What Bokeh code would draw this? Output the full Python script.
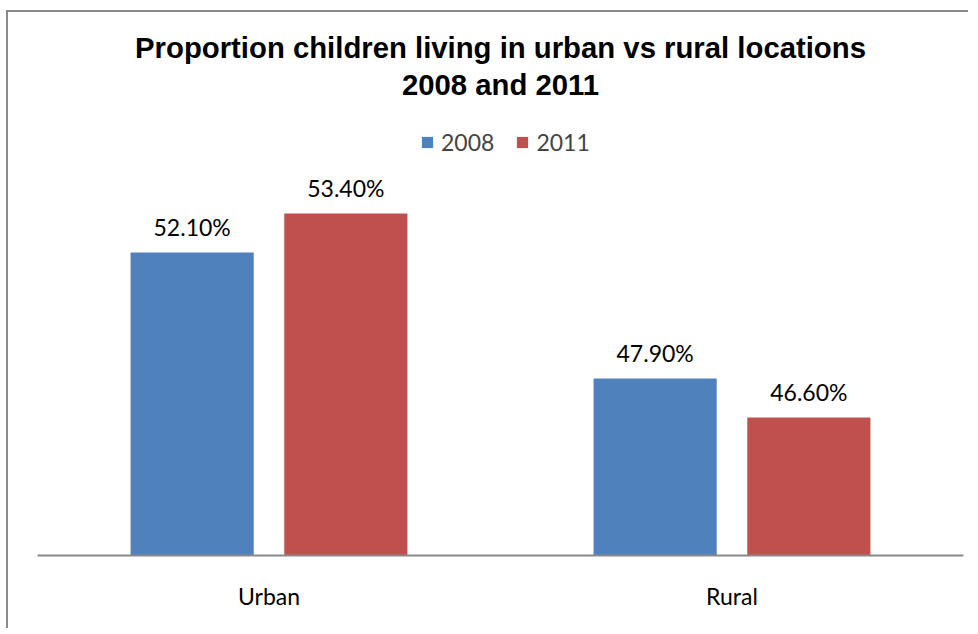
from bokeh.plotting import figure
from bokeh.models import ColumnDataSource, FactorRange, Range1d, Title, Legend
from bokeh.transform import dodge
from bokeh.core.properties import value
from bokeh.embed import file_html
from bokeh.resources import INLINE

# ---- data ----
categories = ["Urban", "Rural"]
series_names = ["2008", "2011"]
values_2008 = [52.1, 47.9]
values_2011 = [53.4, 46.6]
title_line1 = "Proportion children living in urban vs rural locations"
title_line2 = "2008 and 2011"

BLUE = "#4F81BD"
RED = "#C0504D"
GRAY = "#898989"
LABEL_FONT = "Lato"
TITLE_FONT = "Liberation Sans"
LABEL_SIZE = "23px"
TITLE_SIZE = "29.3px"

src = ColumnDataSource(dict(
    cat=categories,
    v2008=values_2008,
    v2011=values_2011,
    l2008=[f"{v:.2f}%" for v in values_2008],
    l2011=[f"{v:.2f}%" for v in values_2011],
))

p = figure(
    x_range=FactorRange(*categories, range_padding=0),
    y_range=Range1d(42, 57.1),
    width=962, height=618,
    output_backend="svg", toolbar_location=None,
    min_border_left=29, min_border_right=7,
    min_border_top=90, min_border_bottom=75,
)
p.margin = (10, 0, 0, 6)
p.styles = {"border-left": f"2px solid {GRAY}", "border-top": f"2px solid {GRAY}"}

p.title.text = title_line1
p.title.align = "center"
p.title.text_font = TITLE_FONT
p.title.text_font_size = TITLE_SIZE
p.title.text_font_style = "bold"
p.title.text_color = "black"
p.title.standoff = 0
p.add_layout(Title(text=title_line2, align="center", text_font=TITLE_FONT,
                   text_font_size=TITLE_SIZE, text_font_style="bold",
                   text_color="black", standoff=4), "above")

off = 0.166
bw = 0.266
r1 = p.vbar(x=dodge("cat", -off, range=p.x_range), top="v2008", bottom=42, width=bw,
            source=src, fill_color=BLUE, line_color=None)
r2 = p.vbar(x=dodge("cat", off, range=p.x_range), top="v2011", bottom=42, width=bw,
            source=src, fill_color=RED, line_color=None)

for col, valcol, lab in ((-off, "v2008", "l2008"), (off, "v2011", "l2011")):
    p.text(x=dodge("cat", col, range=p.x_range), y=valcol,
           text=lab, source=src, text_align="center", text_baseline="middle",
           y_offset=-26, text_font=value(LABEL_FONT), text_font_size=LABEL_SIZE,
           text_color="black")

legend = Legend(items=[(series_names[0], [r1]), (series_names[1], [r2])],
                orientation="horizontal", location=(383, 399),
                glyph_width=14, glyph_height=14, label_standoff=7, spacing=21,
                label_text_font=LABEL_FONT, label_text_font_size=LABEL_SIZE,
                border_line_color=None, background_fill_alpha=0,
                padding=0, margin=0)
p.add_layout(legend)

p.yaxis.visible = False
p.xgrid.visible = False
p.ygrid.visible = False
p.outline_line_color = None
p.xaxis.axis_line_color = GRAY
p.xaxis.axis_line_width = 2
p.xaxis.major_tick_line_color = None
p.xaxis.minor_tick_line_color = None
p.xaxis.major_label_text_font = LABEL_FONT
p.xaxis.major_label_text_font_size = LABEL_SIZE
p.xaxis.major_label_text_color = "black"
p.xaxis.major_label_standoff = 20

open("out.html", "w").write(file_html(p, INLINE))
